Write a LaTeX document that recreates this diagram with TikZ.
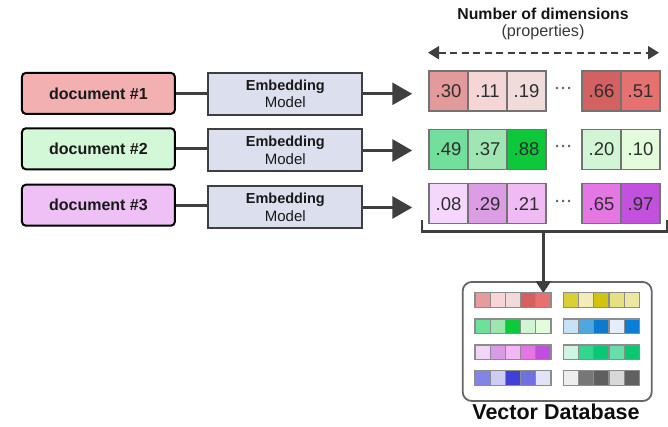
\documentclass[tikz,border=0pt]{standalone}
\usepackage{fontspec}
\setmainfont{Liberation Sans}
\usetikzlibrary{arrows.meta}

% palette
\definecolor{ink}{HTML}{3F3F3F}
\definecolor{docA}{HTML}{F3B0B0}
\definecolor{docB}{HTML}{D3F8D8}
\definecolor{docC}{HTML}{EFC0F6}
\definecolor{embfill}{HTML}{DCE0EE}

\newcommand{\fs}[1]{\fontsize{#1}{#1}\selectfont}

\tikzset{
  docbox/.style={draw=black, line width=2pt, rounded corners=4pt,
    minimum width=153pt, minimum height=41pt, inner sep=0pt,
    font=\bfseries\fs{16}, text=black!90},
  embbox/.style={draw=ink, line width=2pt, fill=embfill,
    minimum width=154pt, minimum height=42pt, inner sep=0pt,
    align=center, text=black!90},
  conn/.style={draw=ink, line width=3pt},
  bigarrow/.style={conn, -{Triangle[length=20pt,width=22pt]}},
  cell/.style={draw=black!55, line width=1.5pt, minimum width=39pt,
    minimum height=40pt, inner sep=0pt, font=\fs{18.5}, text=black!82},
  mini/.style={draw=black!45, line width=1.2pt, minimum width=15.2pt,
    minimum height=14.5pt, inner sep=0pt},
  dots/.style={text=black!60, font=\bfseries\fs{15}, inner sep=0pt},
}

\begin{document}
\begin{tikzpicture}[x=1pt, y=-1pt]
\useasboundingbox (0,0) rectangle (668,427);

% header above the vectors
\node[font=\bfseries\fs{15.8}, text=black!92] (title) at (543,14) {Number of dimensions};
\node[font=\fs{16.2}, text=black!78] (subtitle) at (543,32) {(properties)};
\coordinate (dimL) at (428,52.7);
\coordinate (dimR) at (659,52.7);
\draw[draw=ink, line width=2pt, dash pattern=on 7pt off 4.5pt,
  {Triangle[length=11pt,width=13pt]}-{Triangle[length=11pt,width=13pt]}] (dimL) -- (dimR);

% documents
\node[docbox, fill=docA] (d1) at (98.4,93.4) {document \#1};
\node[docbox, fill=docB] (d2) at (98.4,148.8) {document \#2};
\node[docbox, fill=docC] (d3) at (98.4,205.2) {document \#3};

% embedding models
\foreach \i/\y in {1/93.8, 2/150.5, 3/207.5}{
  \node[embbox] (e\i) at (285.3,\y)
    {{\bfseries\fs{14.5}Embedding}\\[3pt]{\fs{15}Model}};
}

% vectors
\foreach \r/\y/\ca/\va/\cb/\vb/\cc/\vc/\cd/\vd/\ce/\ve in {
  1/91/E39A9A/.30/F5D6D6/.11/F1DCDC/.19/D46161/.66/E67171/.51,
  2/149.3/72E09C/.49/9FE6B3/.37/0DC83A/.88/D2F5D6/.20/E3FDDB/.10,
  3/203.7/F5D6FC/.08/DC9DE6/.29/F0BBF5/.21/E577E4/.65/C252DE/.97}{
  \definecolor{cA}{HTML}{\ca}\definecolor{cB}{HTML}{\cb}
  \definecolor{cC}{HTML}{\cc}\definecolor{cD}{HTML}{\cd}
  \definecolor{cE}{HTML}{\ce}
  \node[cell, fill=cA] (v\r1) at (448.5,\y) {\va};
  \node[cell, fill=cB] (v\r2) at (487.5,\y) {\vb};
  \node[cell, fill=cC] (v\r3) at (526.5,\y) {\vc};
  \node[cell, fill=cD] (v\r4) at (601.5,\y) {\vd};
  \node[cell, fill=cE] (v\r5) at (640.5,\y) {\ve};
  \node[dots] (dots\r) at (563.5,\y-0.5) {\char"00B7\kern1pt\char"00B7\kern1pt\char"00B7};
}

% document -> model -> vector
\foreach \i in {1,2,3}{
  \draw[conn] (d\i.east) -- (d\i.east -| e\i.west);
  \draw[bigarrow] (e\i.east) -- ([xshift=-16pt]v\i1.west |- e\i.east);
}

% bracket gathering the vectors
\coordinate (brL) at (422,220.5);
\coordinate (brR) at (667,220.5);
\coordinate (brM) at (543.3,231.5);
\node[draw=black!60, line width=1.8pt, rounded corners=9pt,
  minimum width=189pt, minimum height=119pt, inner sep=0pt] (db) at (557.2,341.5) {};
\draw[draw=ink, line width=2.5pt] (brL) -- (brL |- brM) -- (brR |- brM) -- (brR);
\draw[draw=ink, line width=2.5pt, -{Triangle[length=12pt,width=15pt]}]
  (brM) -- ([yshift=-12pt]brM |- db.north);

% stored vectors inside the database
\foreach \row/\y/\la/\lb/\lc/\ld/\le/\ra/\rb/\rc/\rd/\re in {
  1/300/E69C9C/F5D5D5/F0DADA/D46060/E87070/D9D035/F2EDB8/D0C410/E6E080/EDE7A0,
  2/326.2/6EE09A/9DE6B0/0CCB3A/D0F5D5/E3FCD9/C8E2F5/4EA8DE/0B7BCF/E3EEFA/0B7FD8,
  3/352.2/F3D4FA/D99BE6/F0B9F4/E575E5/C050DC/CDF5E2/33D68D/08C876/66E0A8/08C870,
  4/378/8383E8/CCCCF5/4040D8/7070E0/E3E3F8/EEEEEE/777777/5F5F5F/D8D8D8/606060}{
  \foreach \k/\c in {1/\la,2/\lb,3/\lc,4/\ld,5/\le}{
    \definecolor{mc}{HTML}{\c}
    \node[mini, fill=mc] (mL\row\k) at ({475+7.6+(\k-1)*15.2},\y) {};
  }
  \foreach \k/\c in {1/\ra,2/\rb,3/\rc,4/\rd,5/\re}{
    \definecolor{mc}{HTML}{\c}
    \node[mini, fill=mc] (mR\row\k) at ({563.3+7.6+(\k-1)*15.2},\y) {};
  }
}

\node[font=\bfseries\fs{21.5}, text=black!95] (dblabel) at (556,412) {Vector Database};
\end{tikzpicture}
\end{document}
